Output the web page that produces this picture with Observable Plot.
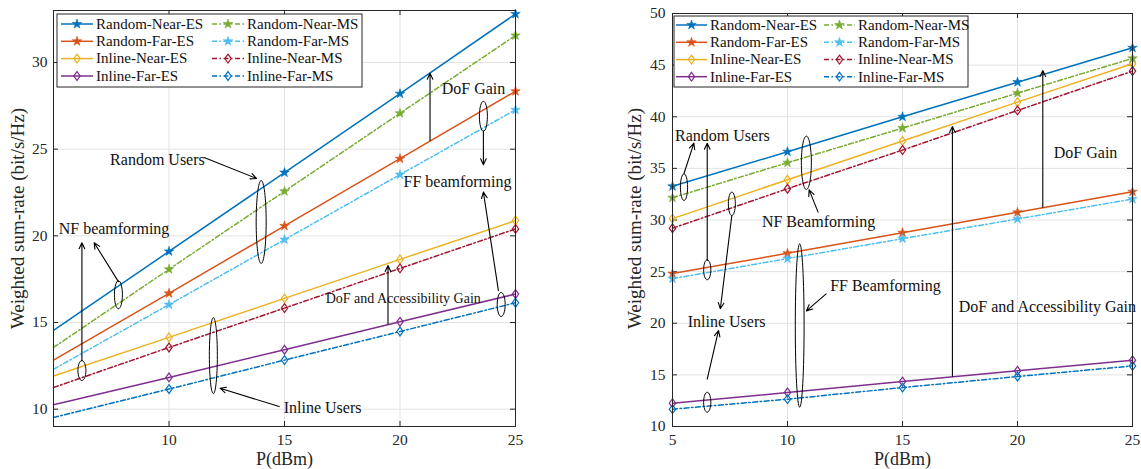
<!DOCTYPE html>
<html><head><meta charset="utf-8">
<script src="https://cdn.jsdelivr.net/npm/d3@7"></script>
<script src="https://cdn.jsdelivr.net/npm/@observablehq/plot@0.6"></script>
<style>
body{margin:0;background:#fff;}
#wrap{position:relative;width:1141px;height:469px;overflow:hidden;}
#wrap svg{overflow:visible;}
</style></head><body><div id="wrap"></div>
<script>
// ---------- DATA ----------
const powerDbm = [5, 10, 15, 20, 25];
const seriesNames = ["Random-Near-ES","Random-Far-ES","Inline-Near-ES","Inline-Far-ES",
                     "Random-Near-MS","Random-Far-MS","Inline-Near-MS","Inline-Far-MS"];
// Left panel
const aRandomNearES = [14.55, 19.10, 23.65, 28.20, 32.80];
const aRandomFarES  = [12.83, 16.68, 20.57, 24.45, 28.34];
const aInlineNearES = [11.91, 14.14, 16.39, 18.64, 20.88];
const aInlineFarES  = [10.25, 11.83, 13.43, 15.04, 16.64];
const aRandomNearMS = [13.56, 18.07, 22.57, 27.07, 31.56];
const aRandomFarMS  = [12.30, 16.03, 19.78, 23.53, 27.27];
const aInlineNearMS = [11.25, 13.56, 15.83, 18.12, 20.40];
const aInlineFarMS  = [9.52, 11.16, 12.83, 14.48, 16.14];
// Right panel
const bRandomNearES = [33.26, 36.61, 40.00, 43.35, 46.68];
const bRandomFarES  = [24.81, 26.77, 28.77, 30.74, 32.74];
const bInlineNearES = [30.13, 33.90, 37.65, 41.42, 45.13];
const bInlineFarES  = [12.26, 13.29, 14.35, 15.39, 16.42];
const bRandomNearMS = [32.16, 35.55, 38.90, 42.29, 45.65];
const bRandomFarMS  = [24.32, 26.26, 28.19, 30.10, 32.03];
const bInlineNearMS = [29.20, 33.03, 36.77, 40.61, 44.42];
const bInlineFarMS  = [11.68, 12.65, 13.77, 14.84, 15.87];

const aXTicks = [10, 15, 20, 25];
const aYTicks = [10, 15, 20, 25, 30];
const bXTicks = [5, 10, 15, 20, 25];
const bYTicks = [10, 15, 20, 25, 30, 35, 40, 45, 50];

// annotations (data coordinates)
const aNotes = [
  {text: "Random Users", x: 9.50, y: 24.40},
  {text: "DoF Gain", x: 23.18, y: 28.50},
  {text: "FF beamforming", x: 22.49, y: 23.09},
  {text: "NF beamforming", x: 7.62, y: 20.40},
  {text: "Inline Users", x: 16.65, y: 10.08}
];
const aSmallNotes = [{text: "DoF and Accessibility Gain", x: 20.14, y: 16.40}];
const aArrows = [
  {x1: 11.52, y1: 24.52, x2: 13.79, y2: 23.31},
  {x1: 21.30, y1: 25.50, x2: 21.30, y2: 29.38},
  {x1: 23.61, y1: 26.04, x2: 23.61, y2: 24.10},
  {x1: 24.26, y1: 16.84, x2: 23.61, y2: 22.52},
  {x1: 6.23, y1: 12.80, x2: 6.23, y2: 19.60},
  {x1: 7.81, y1: 17.36, x2: 6.76, y2: 19.60},
  {x1: 19.48, y1: 14.92, x2: 19.48, y2: 18.29},
  {x1: 14.77, y1: 10.15, x2: 12.21, y2: 11.21}
];
const aEllipses = [
  {x: 13.99, y: 20.80, rx: 5, ry: 41.5},
  {x: 23.61, y: 26.90, rx: 4, ry: 15},
  {x: 24.38, y: 16.04, rx: 4, ry: 12},
  {x: 6.23, y: 12.23, rx: 4, ry: 10},
  {x: 7.81, y: 16.60, rx: 4, ry: 14},
  {x: 11.92, y: 13.09, rx: 4, ry: 38}
];
const bNotes = [
  {text: "Random Users", x: 7.17, y: 38.18},
  {text: "Inline Users", x: 7.35, y: 20.17},
  {text: "NF Beamforming", x: 11.35, y: 29.79},
  {text: "FF Beamforming", x: 14.26, y: 23.66},
  {text: "DoF and Accessibility Gain", x: 21.30, y: 21.62},
  {text: "DoF Gain", x: 22.96, y: 36.47}
];
const bArrows = [
  {x1: 5.50, y1: 34.50, x2: 5.93, y2: 37.44},
  {x1: 6.51, y1: 26.08, x2: 6.51, y2: 37.44},
  {x1: 7.58, y1: 30.44, x2: 7.08, y2: 21.40},
  {x1: 6.51, y1: 14.58, x2: 7.00, y2: 19.30},
  {x1: 11.33, y1: 30.76, x2: 10.94, y2: 32.92},
  {x1: 11.68, y1: 22.85, x2: 10.82, y2: 21.20},
  {x1: 17.17, y1: 14.87, x2: 17.17, y2: 39.06},
  {x1: 21.10, y1: 31.24, x2: 21.10, y2: 44.48}
];
const bEllipses = [
  {x: 5.50, y: 33.18, rx: 3.6, ry: 13.3},
  {x: 6.51, y: 25.18, rx: 3.6, ry: 10},
  {x: 7.58, y: 31.57, rx: 3.5, ry: 11.7},
  {x: 6.51, y: 12.35, rx: 3.6, ry: 10},
  {x: 10.82, y: 35.54, rx: 5, ry: 26.7},
  {x: 10.53, y: 19.78, rx: 4.4, ry: 81.7}
];

// ---------- STYLE ----------
const colors = ["#0072BD","#D95319","#EDB120","#7E2F8E","#77AC30","#4DBEEE","#A2142F","#0072BD"];
const DASHDOT = "5,2.5,1.5,2.5";
const FONT = "Liberation Serif, Times New Roman, serif";
const INK = "#262626";
const GRID = "#e3e3e3";

const diamondSym = {draw(ctx, size) {
  const r = Math.sqrt(size / Math.PI), w = r * 0.8, h = r * 1.1;
  ctx.moveTo(0, -h); ctx.lineTo(w, 0); ctx.lineTo(0, h); ctx.lineTo(-w, 0); ctx.closePath();
}};
function ellipseSym(rx, ry) {
  const k = 0.5522847498;
  return {draw(ctx) {
    ctx.moveTo(rx, 0);
    ctx.bezierCurveTo(rx, k*ry, k*rx, ry, 0, ry);
    ctx.bezierCurveTo(-k*rx, ry, -rx, k*ry, -rx, 0);
    ctx.bezierCurveTo(-rx, -k*ry, -k*rx, -ry, 0, -ry);
    ctx.bezierCurveTo(k*rx, -ry, rx, -k*ry, rx, 0);
    ctx.closePath();
  }};
}
const isRandom = (name) => name.startsWith("Random");
const isMS = (name) => name.endsWith("MS");
const markerStyle = (name, s) => isRandom(name)
  ? {symbol: "star", r: 3, fill: colors[s], stroke: colors[s], strokeWidth: 0.6}
  : {symbol: diamondSym, r: 4, fill: "none", stroke: colors[s], strokeWidth: 1.2};

function buildRows(arrays) {
  return seriesNames.flatMap((name, s) => powerDbm.map((p, i) => ({p, v: arrays[s][i], name})));
}

function panel(cfg) {
  const rows = buildRows(cfg.values);
  const W = cfg.width - cfg.ml - cfg.mr, H = 469 - cfg.mt - cfg.mb;
  const marks = [
    Plot.gridX(cfg.xTicks.filter(t => t > cfg.xDomain[0] && t < cfg.xDomain[1]), {stroke: GRID, strokeOpacity: 1}),
    Plot.gridY(cfg.yTicks.filter(t => t > cfg.yDomain[0] && t < cfg.yDomain[1]), {stroke: GRID, strokeOpacity: 1}),
    Plot.tickY(cfg.yTicks, {y: d => d, insetRight: W - 5, stroke: INK}),
    Plot.tickY(cfg.yTicks, {y: d => d, insetLeft: W - 5, stroke: INK}),
    Plot.tickX(cfg.xTicks, {x: d => d, insetTop: H - 5, stroke: INK}),
    Plot.tickX(cfg.xTicks, {x: d => d, insetBottom: H - 5, stroke: INK}),
    Plot.axisX({ticks: cfg.xTicks, tickSize: 0, tickPadding: 7, label: null, fontSize: 15.5, fontFamily: FONT, color: INK}),
    Plot.axisY({ticks: cfg.yTicks, tickSize: 0, tickPadding: cfg.yPad, label: null, fontSize: 15.5, fontFamily: FONT, color: INK}),
    Plot.text(["P(dBm)"], {frameAnchor: "bottom", textAnchor: "middle", lineAnchor: "middle", dy: 32.5, fontSize: 18, fontFamily: FONT, fill: INK}),
    Plot.text(["Weighted sum-rate (bit/s/Hz)"], {frameAnchor: "left", textAnchor: "middle", lineAnchor: "middle", dx: cfg.ylabDx, dy: cfg.ylabDy, rotate: -90, fontSize: 19, fontFamily: FONT, fill: INK}),
  ];
  seriesNames.forEach((name, s) => {
    const d = rows.filter(r => r.name === name);
    marks.push(Plot.line(d, {x: "p", y: "v", stroke: colors[s], strokeWidth: 1.5,
      strokeDasharray: isMS(name) ? DASHDOT : null}));
  });
  seriesNames.forEach((name, s) => {
    const d = rows.filter(r => r.name === name && r.p >= cfg.markerFrom);
    marks.push(Plot.dot(d, {x: "p", y: "v", ...markerStyle(name, s)}));
  });
  // annotations
  cfg.ellipses.forEach(e => marks.push(Plot.dot([e], {x: "x", y: "y", r: 1, symbol: ellipseSym(e.rx, e.ry), fill: "none", stroke: "#000", strokeWidth: 1})));
  marks.push(Plot.arrow(cfg.arrows, {x1: "x1", y1: "y1", x2: "x2", y2: "y2", bend: 0, headLength: 9, headAngle: 50, stroke: "#000", strokeWidth: 1.1}));
  marks.push(Plot.text(cfg.notes, {x: "x", y: "y", text: "text", fontSize: 16, fontFamily: FONT, fill: "#111"}));
  if (cfg.smallNotes) marks.push(Plot.text(cfg.smallNotes, {x: "x", y: "y", text: "text", fontSize: 14, fontFamily: FONT, fill: "#111"}));
  marks.push(Plot.frame({stroke: INK, strokeWidth: 1}));
  const svg = Plot.plot({
    width: cfg.width, height: 469,
    marginLeft: cfg.ml, marginRight: cfg.mr, marginTop: cfg.mt, marginBottom: cfg.mb,
    x: {domain: cfg.xDomain}, y: {domain: cfg.yDomain},
    style: {fontFamily: FONT, fontSize: "16px", color: INK, background: "transparent", overflow: "visible"},
    marks
  });
  svg.style.position = "absolute";
  svg.style.left = cfg.left + "px";
  svg.style.top = "0px";
  return svg;
}

const wrap = document.getElementById("wrap");
wrap.appendChild(panel({
  left: 0, width: 560, ml: 53, mr: 45, mt: 10, mb: 43,
  xDomain: [5, 25], yDomain: [9, 33], xTicks: aXTicks, yTicks: aYTicks, yPad: 6,
  ylabDx: -36, ylabDy: 0, markerFrom: 10,
  values: [aRandomNearES, aRandomFarES, aInlineNearES, aInlineFarES, aRandomNearMS, aRandomFarMS, aInlineNearMS, aInlineFarMS],
  notes: aNotes, smallNotes: aSmallNotes, arrows: aArrows, ellipses: aEllipses
}));
wrap.appendChild(panel({
  left: 560, width: 581, ml: 112, mr: 9, mt: 13, mb: 43,
  xDomain: [5, 25], yDomain: [10, 50], xTicks: bXTicks, yTicks: bYTicks, yPad: 7,
  ylabDx: -37.5, ylabDy: -1.5, markerFrom: 5,
  values: [bRandomNearES, bRandomFarES, bInlineNearES, bInlineFarES, bRandomNearMS, bRandomFarMS, bInlineNearMS, bInlineFarMS],
  notes: bNotes, arrows: bArrows, ellipses: bEllipses
}));

// ---------- LEGENDS (overlay) ----------
function drawLegend(svg, box) {
  const g = svg.append("g");
  g.append("rect").attr("x", box.x).attr("y", box.y).attr("width", box.w).attr("height", box.h)
    .attr("fill", "#fff").attr("stroke", INK).attr("stroke-width", 1);
  seriesNames.forEach((name, s) => {
    const col = s < 4 ? box.c1 : box.c2;
    const y = box.rows[s % 4];
    g.append("line").attr("x1", col.l1).attr("x2", col.l2).attr("y1", y).attr("y2", y)
      .attr("stroke", colors[s]).attr("stroke-width", 1.5)
      .attr("stroke-dasharray", isMS(name) ? DASHDOT : null);
    const m = markerStyle(name, s);
    const type = m.symbol === "star" ? d3.symbolStar : m.symbol;
    g.append("path").attr("d", d3.symbol(type, m.r * m.r * Math.PI)())
      .attr("transform", `translate(${(col.l1 + col.l2) / 2},${y})`)
      .attr("fill", m.fill).attr("stroke", m.stroke).attr("stroke-width", m.strokeWidth);
    g.append("text").attr("x", col.t).attr("y", y).attr("dy", "0.32em")
      .attr("font-family", FONT).attr("font-size", 15).attr("fill", "#111").text(name);
  });
}
const overlay = d3.create("svg").attr("width", 1141).attr("height", 469)
  .style("position", "absolute").style("left", "0px").style("top", "0px");
drawLegend(overlay, {x: 57, y: 14, w: 305, h: 73, rows: [24, 41.3, 58.6, 76],
  c1: {l1: 61, l2: 93, t: 96}, c2: {l1: 212, l2: 244, t: 247}});
drawLegend(overlay, {x: 674, y: 16, w: 294, h: 71, rows: [25, 42.3, 59.6, 76.7],
  c1: {l1: 676, l2: 707, t: 710}, c2: {l1: 824, l2: 855, t: 858}});
wrap.appendChild(overlay.node());
</script></body></html>
